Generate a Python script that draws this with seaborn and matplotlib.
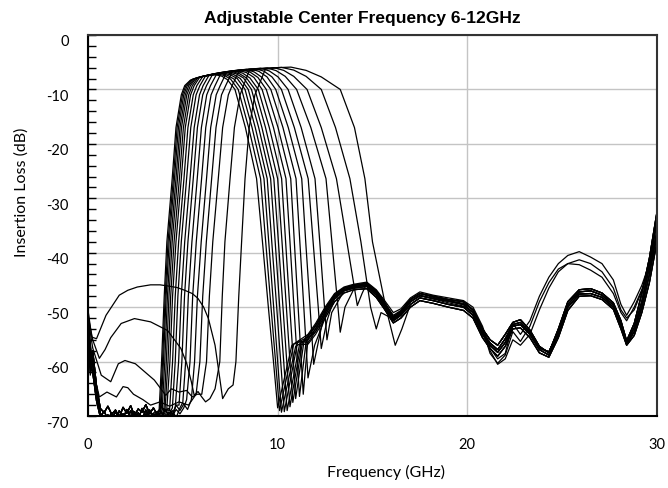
import numpy as np
import pandas as pd
import seaborn as sns
import matplotlib.pyplot as plt
import matplotlib.transforms as mtransforms
from matplotlib.ticker import MultipleLocator

# 18 filter states (GHz, dB)
# rising edge: frequency where each curve crosses a loss level
r_exit_f = [3.75, 3.8, 3.85, 3.9, 4.0, 4.05, 4.15, 4.3, 4.45, 4.6, 4.8, 5.0, 5.2, 5.45, 5.7, 6.0, 6.7, 7.65]
r_exit_db = [-69.0, -69.5, -69.0, -69.5, -69.0, -69.5, -69.0, -69.0, -68.5, -68.5, -68.0, -67.5, -67.0, -67.0, -66.0, -66.0, -65.0, -64.3]
r60 = [3.88, 3.93, 3.98, 4.05, 4.13, 4.22, 4.32, 4.46, 4.6, 4.78, 4.95, 5.15, 5.38, 5.62, 5.9, 6.25, 6.95, 7.8]
r48 = [4.02, 4.07, 4.12, 4.19, 4.27, 4.36, 4.46, 4.6, 4.74, 4.92, 5.09, 5.29, 5.52, 5.77, 6.05, 6.4, 7.08, 7.95]
r38 = [4.16, 4.22, 4.28, 4.36, 4.44, 4.54, 4.64, 4.78, 4.92, 5.1, 5.27, 5.48, 5.71, 5.97, 6.24, 6.58, 7.22, 8.1]
r26 = [4.44, 4.50, 4.56, 4.64, 4.72, 4.82, 4.92, 5.06, 5.20, 5.38, 5.55, 5.76, 5.99, 6.25, 6.52, 6.87, 7.49, 8.28]
r17 = [4.64, 4.70, 4.77, 4.85, 4.93, 5.03, 5.13, 5.27, 5.42, 5.60, 5.77, 5.98, 6.21, 6.47, 6.75, 7.10, 7.72, 8.50]
r11 = [4.92, 4.98, 5.05, 5.13, 5.21, 5.31, 5.41, 5.55, 5.70, 5.88, 6.05, 6.26, 6.49, 6.76, 7.04, 7.40, 8.02, 8.80]
r9 = [5.1, 5.16, 5.23, 5.31, 5.4, 5.5, 5.6, 5.74, 5.9, 6.07, 6.25, 6.46, 6.7, 6.97, 7.26, 7.6, 8.2, 9.0]

# passband top
sh_f = [5.40, 5.46, 5.53, 5.62, 5.70, 5.80, 5.90, 6.05, 6.20, 6.38, 6.56, 6.78, 7.02, 7.30, 7.60, 7.95, 8.50, 9.35]
sh_db = [-8.3, -8.2, -8.1, -8.0, -7.9, -7.8, -7.7, -7.6, -7.5, -7.4, -7.3, -7.2, -7.0, -6.9, -6.8, -6.7, -6.6, -6.3]
sh2_f = [6.0, 6.13, 6.26, 6.38, 6.5, 6.62, 6.75, 6.9, 7.07, 7.26, 7.45, 7.69, 7.93, 8.2, 8.52, 8.87, 9.35, 10.0]
sh2_db = [-7.65, -7.55, -7.45, -7.35, -7.25, -7.15, -7.05, -6.95, -6.85, -6.75, -6.65, -6.55, -6.5, -6.4, -6.3, -6.25, -6.15, -6.0]
peak_f = [6.70, 6.85, 7.00, 7.15, 7.30, 7.45, 7.60, 7.75, 7.95, 8.15, 8.35, 8.60, 8.85, 9.10, 9.45, 9.80, 10.20, 10.70]
peak_db = [-7.3, -7.2, -7.1, -7.0, -6.9, -6.8, -6.7, -6.6, -6.5, -6.4, -6.3, -6.25, -6.2, -6.1, -6.05, -6.0, -5.95, -5.9]
pk2_f = [7.05, 7.2, 7.35, 7.5, 7.67, 7.83, 7.98, 8.15, 8.35, 8.56, 8.77, 9.02, 9.28, 9.56, 9.92, 10.32, 10.85, 11.5]
pk2_db = [-7.55, -7.45, -7.4, -7.3, -7.25, -7.15, -7.1, -7.0, -6.9, -6.85, -6.8, -6.7, -6.65, -6.6, -6.55, -6.5, -6.45, -6.5]
kn_f = [7.35, 7.52, 7.70, 7.87, 8.03, 8.20, 8.36, 8.54, 8.75, 8.96, 9.18, 9.44, 9.70, 10.02, 10.40, 10.85, 11.50, 12.30]
kn_db = [-8.2, -8.1, -8.1, -8.0, -8.0, -7.9, -7.9, -7.9, -7.8, -7.8, -7.8, -7.7, -7.7, -7.7, -7.6, -7.6, -7.6, -7.7]

# falling edge
f10 = [7.75, 7.92, 8.10, 8.28, 8.45, 8.62, 8.80, 8.98, 9.18, 9.40, 9.64, 9.90, 10.20, 10.55, 11.00, 11.55, 12.30, 13.30]
f17 = [8.30, 8.47, 8.65, 8.82, 9.00, 9.17, 9.36, 9.56, 9.78, 10.02, 10.28, 10.56, 10.88, 11.24, 11.75, 12.30, 13.05, 14.05]
f26 = [8.89, 9.10, 9.28, 9.45, 9.63, 9.80, 10.00, 10.21, 10.44, 10.69, 10.97, 11.27, 11.61, 11.97, 12.55, 13.10, 13.81, 14.60]
f38 = [9.20, 9.37, 9.53, 9.69, 9.87, 10.04, 10.23, 10.42, 10.65, 10.88, 11.17, 11.48, 11.87, 12.22, 12.86, 13.65, 14.39, 15.00]
f50 = [9.51, 9.65, 9.79, 9.95, 10.11, 10.28, 10.46, 10.64, 10.86, 11.08, 11.38, 11.71, 12.14, 12.47, 13.18, 14.10, 14.90, 15.70]
f60 = [9.78, 9.89, 10.00, 10.16, 10.32, 10.48, 10.65, 10.83, 11.04, 11.25, 11.55, 11.88, 12.28, 12.6, 13.3, 14.2, 15.2, 16.05]
nt_f = [10.00, 10.10, 10.20, 10.35, 10.50, 10.65, 10.80, 10.95, 11.15, 11.35, 11.60, 11.90, 12.30, 12.60, 13.30, 14.20, 15.20, 16.20]
nt_db = [-68.5, -69.0, -69.3, -69.2, -69.0, -68.3, -67.5, -66.8, -66.4, -66.0, -63.0, -60.5, -57.6, -56.0, -54.6, -49.7, -54.0, -57.0]
a1_f = [10.75, 10.85, 10.95, 11.05, 11.15, 11.25, 11.30, 11.40, 11.50, 11.60, 11.95, 12.20, 12.60, 12.85, 13.55, 14.45, 15.45, 16.55]
a1_db = [-57.0, -56.8, -57.2, -56.5, -56.9, -56.3, -56.6, -56.0, -56.4, -55.8, -57.0, -55.5, -52.5, -51.0, -50.0, -47.5, -51.0, -54.0]

# upper stopband, a few distinct traces
up_f = [11.6, 12.0, 12.5, 13.0, 13.5, 14.0, 14.7, 15.2, 15.6, 16.1, 16.5, 17.0, 17.5, 18.2, 19.0, 19.8, 20.3, 20.8, 21.2, 21.6,
        22.0, 22.4, 22.8, 23.3, 23.8, 24.3, 24.8, 25.3, 25.9, 26.5, 27.1, 27.7, 28.1, 28.4, 28.8, 29.2, 29.6, 30.0]
up_a = [-55.5, -53.5, -50.5, -47.8, -46.5, -46.0, -45.6, -47.0, -49.0, -51.8, -50.8, -48.6, -47.5, -48.0, -48.6, -49.0, -50.5, -54.0, -56.0, -57.0,
        -55.0, -52.8, -52.3, -54.2, -57.2, -58.4, -54.0, -49.0, -46.8, -46.6, -47.4, -49.2, -52.5, -56.2, -53.0, -47.5, -41.0, -32.5]
up_b = [-56.5, -54.5, -51.5, -48.5, -47.0, -46.5, -46.2, -47.8, -49.8, -52.5, -51.5, -49.5, -48.3, -48.8, -49.5, -50.0, -51.5, -55.0, -57.0, -58.3,
        -56.5, -53.5, -53.2, -55.0, -57.8, -58.8, -55.0, -50.0, -47.6, -47.5, -48.2, -50.0, -53.5, -56.8, -54.5, -50.0, -44.0, -36.0]
up_c = [-55.0, -53.0, -50.0, -47.5, -46.3, -45.8, -45.4, -46.8, -48.6, -51.0, -50.3, -48.3, -47.2, -47.8, -48.3, -48.8, -50.0, -53.5, -57.5, -59.5,
        -58.5, -53.0, -55.0, -52.5, -48.0, -44.5, -42.0, -40.5, -39.8, -40.8, -42.0, -45.0, -49.5, -51.5, -49.0, -46.0, -42.0, -36.5]
up_d = [-56.0, -54.0, -51.0, -48.0, -46.8, -46.2, -45.9, -47.5, -49.5, -52.0, -51.0, -49.0, -47.8, -48.5, -49.2, -49.8, -51.0, -54.5, -58.0, -60.5,
        -59.5, -56.0, -57.0, -55.0, -50.5, -46.5, -43.5, -42.0, -41.3, -42.0, -43.5, -46.5, -50.5, -52.0, -50.5, -47.0, -43.0, -38.5]
up_e = [-55.8, -54.0, -51.0, -48.2, -46.8, -46.3, -45.9, -47.4, -49.4, -52.2, -51.2, -49.0, -47.9, -48.4, -48.9, -49.5, -51.0, -54.6, -56.6, -57.8,
        -55.8, -53.2, -52.8, -54.6, -57.5, -58.2, -54.5, -49.5, -47.2, -47.0, -47.8, -49.6, -53.0, -56.5, -53.8, -49.0, -42.5, -34.0]
up_f_high = [-55.3, -53.3, -50.3, -47.7, -46.5, -46.0, -45.7, -47.2, -49.0, -51.5, -50.6, -48.6, -47.5, -48.2, -48.8, -49.3, -50.5, -54.0, -58.5, -60.3,
             -58.8, -54.5, -56.3, -53.5, -49.0, -45.5, -43.0, -42.0, -42.2, -43.2, -44.5, -47.5, -51.0, -52.5, -50.0, -46.8, -42.5, -37.5]
up_g = [-56.8, -55.0, -52.0, -49.0, -47.4, -46.8, -46.6, -48.2, -50.2, -52.9, -52.0, -50.0, -48.8, -49.3, -50.0, -50.6, -52.0, -55.6, -57.6, -59.0,
        -57.2, -54.0, -53.8, -55.6, -58.4, -59.2, -55.6, -50.6, -48.0, -47.9, -48.6, -50.4, -54.0, -57.0, -55.2, -51.0, -45.5, -38.0]
upper_pick = "CAEDGBFAEBGAEBGAEB"

# lower stopband: noisy floor for the first 14 states
lo0_db = [-50.0, -52.5, -54.0, -51.0, -55.5, -53.0, -50.5, -52.0, -54.5, -51.5, -53.5, -50.8, -55.0, -52.8]
lo1_db = [-57.0, -59.5, -61.0, -58.5, -62.0, -60.5, -58.0, -59.0, -62.0, -59.0, -61.0, -58.5, -62.5, -60.0]
floor_f = [0.25, 0.45, 0.65, 0.85, 1.05, 1.25, 1.45, 1.65, 1.85, 2.05, 2.25, 2.45, 2.65, 2.85, 3.05, 3.25, 3.45, 3.65,
           3.85, 4.05, 4.25, 4.45, 4.65, 4.85, 5.05, 5.25, 5.45]
floor_a = [-60.0, -66.0, -69.5, -70.5, -69.8, -70.8, -69.2, -70.5, -69.6, -70.9, -69.0, -70.3, -69.4, -70.6, -68.9, -70.2, -69.5, -70.7,
           -69.1, -70.4, -69.3, -70.0, -68.8, -69.6, -68.5, -69.2, -68.3]
floor_b = [-58.0, -64.5, -68.6, -69.4, -68.2, -69.7, -68.9, -70.2, -68.4, -69.5, -68.1, -69.9, -68.7, -69.3, -67.9, -69.6, -68.5, -69.8,
           -68.2, -69.1, -68.6, -69.7, -68.0, -69.0, -67.8, -68.8, -67.6]
floor_c = [-62.0, -67.2, -70.2, -69.1, -70.6, -69.4, -70.9, -69.0, -70.4, -68.8, -70.1, -69.2, -70.7, -68.6, -69.9, -68.9, -70.5, -69.3,
           -70.8, -68.7, -69.8, -69.0, -70.3, -68.5, -69.4, -68.3, -69.1]
floor_pick = "abcabcabcabcab"

# the four highest states have their own lower stopband
low14_f = [0.0, 0.3, 0.6, 1.0, 1.5, 1.85, 2.1, 2.4, 2.9, 3.3, 3.8, 4.3, 4.8, 5.3]
low14_db = [-53.0, -62.0, -66.5, -65.6, -66.5, -64.6, -64.8, -66.0, -67.0, -68.0, -67.4, -68.2, -67.4, -68.0]
low15_f = [0.0, 0.25, 0.7, 1.2, 1.6, 1.95, 2.5, 3.0, 3.5, 4.1, 4.4, 4.8, 5.2, 5.5, 5.75]
low15_db = [-52.0, -57.5, -62.5, -63.7, -60.4, -59.8, -60.4, -61.9, -63.4, -66.2, -65.0, -65.6, -65.3, -66.5, -66.0]
low16_f = [0.0, 0.25, 0.6, 0.9, 1.2, 1.75, 2.45, 3.3, 4.2, 4.9, 5.2, 5.45, 5.6, 5.8, 6.0, 6.2, 6.43]
low16_db = [-51.5, -56.0, -59.4, -57.8, -55.6, -53.0, -52.1, -52.7, -54.3, -57.6, -60.3, -63.7, -66.2, -65.5, -66.5, -67.4, -66.8]
low17_f = [0.0, 0.2, 0.45, 0.95, 1.65, 2.1, 2.6, 3.3, 3.8, 4.2, 4.7, 5.1, 5.5, 5.8, 6.1, 6.35, 6.7, 6.9, 7.1, 7.4]
low17_db = [-50.5, -55.5, -55.8, -51.5, -47.8, -46.9, -46.3, -45.9, -45.9, -46.1, -46.4, -46.9, -47.5, -48.4, -50.0, -52.1, -57.0, -61.9, -66.8, -65.0]

upper = {"A": up_a, "B": up_b, "C": up_c, "D": up_d, "E": up_e, "F": up_f_high, "G": up_g}
floors = {"a": floor_a, "b": floor_b, "c": floor_c}
special_low = {14: (low14_f, low14_db), 15: (low15_f, low15_db), 16: (low16_f, low16_db), 17: (low17_f, low17_db)}

rows = []
for i in range(len(r26)):
    pts = []
    if i in special_low:
        pts += list(zip(*special_low[i]))
    else:
        pts += [(0.0, lo0_db[i]), (0.12, lo1_db[i])]
        pts += [(f, d) for f, d in zip(floor_f, floors[floor_pick[i]]) if f < r_exit_f[i] - 0.1]
    pts += [(r_exit_f[i], r_exit_db[i]), (r60[i], -60), (r48[i], -48), (r38[i], -38), (r26[i], -26.4),
            (r17[i], -17), (r11[i], -11), (r9[i], -9.3), (sh_f[i], sh_db[i]), (sh2_f[i], sh2_db[i]),
            (peak_f[i], peak_db[i]), (pk2_f[i], pk2_db[i]), (kn_f[i], kn_db[i]),
            (f10[i], -10), (f17[i], -17), (f26[i], -26.4)]
    for f, lvl in [(f38[i], -38), (f50[i], -50), (f60[i], -60)]:
        if lvl > nt_db[i] + 1.5:
            pts.append((f, lvl))
    pts += [(nt_f[i], nt_db[i]), (a1_f[i], a1_db[i])]
    pts += [(f, d) for f, d in zip(up_f, upper[upper_pick[i]]) if f > a1_f[i] + 0.2]
    for k, (f, d) in enumerate(pts):
        rows.append({"curve": i, "order": k, "freq": f, "loss": d})

df = pd.DataFrame(rows)

sns.set_theme(style="white")
plt.rcParams["font.family"] = ["Lato", "DejaVu Sans"]
plt.rcParams["axes.unicode_minus"] = False
plt.rcParams["text.color"] = "black"
plt.rcParams["axes.labelcolor"] = "black"
plt.rcParams["xtick.color"] = "black"
plt.rcParams["ytick.color"] = "black"

fig, ax = plt.subplots(figsize=(6.68, 4.89), dpi=100)
fig.subplots_adjust(left=0.1317, right=0.9835, top=0.9264, bottom=0.1472)

sns.lineplot(data=df, x="freq", y="loss", units="curve", estimator=None, sort=False,
             color="black", linewidth=0.9, legend=False, ax=ax)

ax.set_xlim(0, 30)
ax.set_ylim(-70, 0)
ax.set_xticks([0, 10, 20, 30])
ax.set_yticks(np.arange(-70, 1, 10))
ax.yaxis.set_minor_locator(MultipleLocator(2))
ax.grid(True, which="major", color="#c4c4c4", linewidth=1.0)
ax.set_axisbelow(True)

ax.tick_params(axis="y", which="both", direction="in", length=6, width=1.0, color="black",
               labelsize=10.5, pad=14, left=True)
ax.tick_params(axis="x", length=0, labelsize=10.5, pad=15)
# y labels sit a little below their tick
offset = mtransforms.ScaledTranslation(0, -5 / 100, fig.dpi_scale_trans)
for lab in ax.get_yticklabels():
    lab.set_transform(lab.get_transform() + offset)

for side in ["left", "bottom"]:
    ax.spines[side].set_color("black")
    ax.spines[side].set_linewidth(1.5)
for side in ["top", "right"]:
    ax.spines[side].set_color("#333333")
    ax.spines[side].set_linewidth(1.5)

ax.set_xlabel("Frequency (GHz)", fontsize=11.5)
ax.set_ylabel("Insertion Loss (dB)", fontsize=11.5)
ax.xaxis.set_label_coords(0.524, -0.125)
ax.yaxis.set_label_coords(-0.105, 0.59)

fig.text(362 / 668, 1 - 18 / 489, "Adjustable Center Frequency 6-12GHz", ha="center", va="center",
         fontsize=12.5, fontweight="bold", color="black", family=["Liberation Sans", "DejaVu Sans"])

fig.savefig("out.png", dpi=100)
